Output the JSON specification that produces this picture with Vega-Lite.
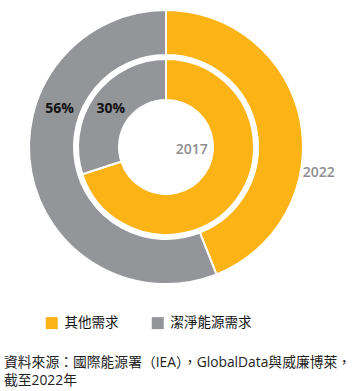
{
  "$schema": "https://vega.github.io/schema/vega-lite/v6.json",
  "width": 332,
  "height": 294,
  "padding": {"left": 0, "top": 0, "right": 23, "bottom": 97},
  "autosize": {"type": "none"},
  "background": "white",
  "data": {
    "values": [
      {"year": "2022", "category": "其他需求", "share": 0.44},
      {"year": "2022", "category": "潔淨能源需求", "share": 0.56},
      {"year": "2017", "category": "其他需求", "share": 0.70},
      {"year": "2017", "category": "潔淨能源需求", "share": 0.30}
    ]
  },
  "title": {
    "text": ["資料來源：國際能源署（IEA），GlobalData與威廉博萊，", "截至2022年"],
    "orient": "bottom",
    "anchor": "start",
    "frame": "group",
    "font": "Open Sans, Noto Sans CJK TC",
    "fontSize": 13.8,
    "fontWeight": "normal",
    "color": "#222222",
    "lineHeight": 18,
    "dx": 4,
    "offset": 26
  },
  "config": {
    "view": {"stroke": null},
    "font": "Open Sans, Noto Sans CJK TC"
  },
  "layer": [
    {
      "transform": [{"filter": "datum.year === '2022'"}],
      "mark": {"type": "arc", "radius": 137, "radius2": 92, "stroke": "white", "strokeWidth": 2},
      "encoding": {
        "theta": {"field": "share", "type": "quantitative", "stack": true},
        "order": {"field": "category", "sort": "ascending"},
        "color": {
          "field": "category",
          "type": "nominal",
          "scale": {"domain": ["其他需求", "潔淨能源需求"], "range": ["#FBB316", "#939598"]},
          "legend": {
            "title": null,
            "orient": "none",
            "legendX": 45,
            "legendY": 316,
            "direction": "horizontal",
            "symbolType": "square",
            "symbolSize": 144,
            "symbolStrokeWidth": 0,
            "labelFont": "Noto Sans CJK TC",
            "labelFontSize": 13.5,
            "labelColor": "#111111",
            "labelOffset": 6,
            "columnPadding": 32
          }
        }
      }
    },
    {
      "transform": [{"filter": "datum.year === '2017'"}],
      "mark": {"type": "arc", "radius": 88, "radius2": 47, "stroke": "white", "strokeWidth": 2},
      "encoding": {
        "theta": {"field": "share", "type": "quantitative", "stack": true},
        "order": {"field": "category", "sort": "ascending"},
        "color": {"field": "category", "type": "nominal"}
      }
    },
    {
      "transform": [{"filter": "datum.year === '2022' && datum.category === '潔淨能源需求'"}],
      "mark": {"type": "text", "radius": 113, "theta": 5.055, "font": "Open Sans", "fontWeight": "bold", "fontSize": 14, "color": "#111111", "align": "center", "baseline": "middle"},
      "encoding": {"text": {"field": "share", "type": "quantitative", "format": ".0%"}}
    },
    {
      "transform": [{"filter": "datum.year === '2017' && datum.category === '潔淨能源需求'"}],
      "mark": {"type": "text", "radius": 67, "theta": 5.316, "font": "Open Sans", "fontWeight": "bold", "fontSize": 14, "color": "#111111", "align": "center", "baseline": "middle"},
      "encoding": {"text": {"field": "share", "type": "quantitative", "format": ".0%"}}
    },
    {
      "transform": [{"filter": "datum.year === '2017' && datum.category === '其他需求'"}],
      "mark": {"type": "text", "radius": 26, "theta": 1.686, "font": "Open Sans", "fontWeight": 600, "fontSize": 14, "color": "#8E8E90", "align": "center", "baseline": "middle"},
      "encoding": {"text": {"field": "year", "type": "nominal"}}
    },
    {
      "transform": [{"filter": "datum.year === '2022' && datum.category === '其他需求'"}],
      "mark": {"type": "text", "radius": 155, "theta": 1.738, "font": "Open Sans", "fontWeight": 600, "fontSize": 14, "color": "#8E8E90", "align": "center", "baseline": "middle"},
      "encoding": {"text": {"field": "year", "type": "nominal"}}
    }
  ]
}
